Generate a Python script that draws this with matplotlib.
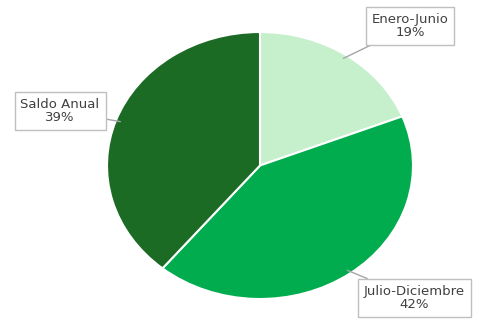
import matplotlib
matplotlib.use("Agg")
import matplotlib.pyplot as plt
import numpy as np

labels = ["Enero-Junio", "Julio-Diciembre", "Saldo Anual"]
shares = [19, 42, 39]
colors = ["#c6efcc", "#00ac4e", "#1b6b24"]
# label box centres in figure pixels (from top-left)
box_pos = [(410, 26), (414, 298), (60, 111)]

W, H = 479, 322
fig = plt.figure(figsize=(W / 100, H / 100), dpi=100)
ax = fig.add_axes([107 / W, (H - 299) / H, 306 / W, 267 / H])
wedges, _ = ax.pie(shares, colors=colors, startangle=90, counterclock=False,
                   wedgeprops=dict(edgecolor="white", linewidth=1.5))
ax.set_aspect("auto")
ax.set_xlim(-1, 1)
ax.set_ylim(-1, 1)

total = sum(shares)
start = 90.0
for lab, v, (bx, by) in zip(labels, shares, box_pos):
    ang = np.deg2rad(start - v / total * 360 / 2)
    start -= v / total * 360
    pt = (np.cos(ang) * 0.97, np.sin(ang) * 0.97)
    ax.annotate(f"{lab}\n{v}%", xy=pt, xycoords="data",
                xytext=(bx / W, 1 - by / H), textcoords="figure fraction",
                ha="center", va="center", fontsize=9.5, color="#404040",
                linespacing=1.0,
                bbox=dict(boxstyle="square,pad=0.45", fc="white", ec="#bfbfbf", lw=1),
                arrowprops=dict(arrowstyle="-", color="#a6a6a6", lw=1,
                                shrinkA=0, shrinkB=0))

fig.savefig("out.png", dpi=100, facecolor="white")
